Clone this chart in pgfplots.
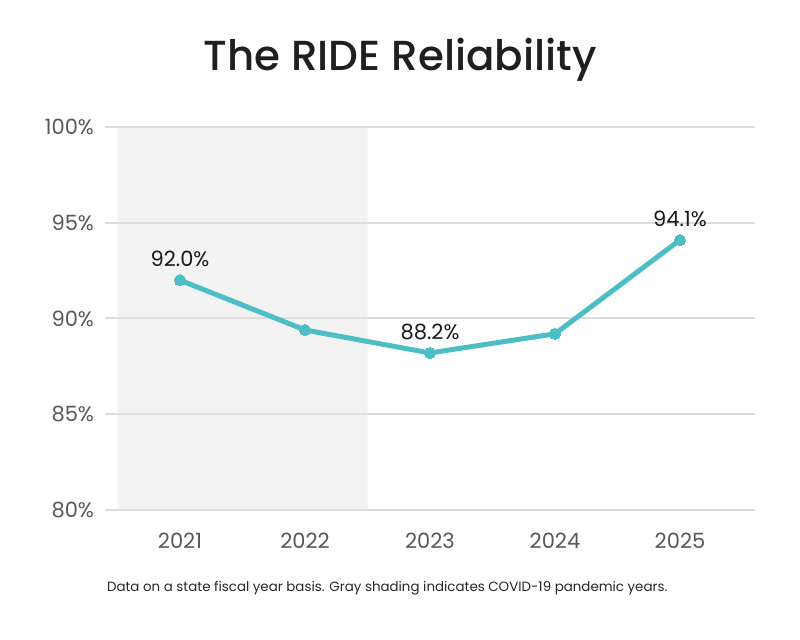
\documentclass[border=0pt]{standalone}
\usepackage{fontspec}
\setmainfont{Poppins}
\newfontfamily\titlefont{Poppins}[UprightFont={* Medium}]
\usepackage{pgfplots}
\pgfplotsset{compat=1.18}
\definecolor{ridecyan}{HTML}{4DBDC6}
\definecolor{gridgray}{HTML}{DDDDDD}
\definecolor{shade}{HTML}{F3F3F3}
\definecolor{ticktext}{HTML}{585858}
\begin{document}
\begin{tikzpicture}
  \path (0pt,0pt) rectangle (400pt,320pt);
  \node[font=\titlefont\fontsize{21}{25}\selectfont, text=black!88] at (200pt,290pt) {The RIDE Reliability};
  \node[font=\fontsize{6.7}{9}\selectfont, text=black!85, anchor=west] at (50pt,26pt) {Data on a state fiscal year basis. Gray shading indicates COVID-19 pandemic years.};
  \begin{axis}[
    at={(52.5pt,65pt)}, anchor=south west,
    scale only axis,
    width=325pt, height=191.5pt,
    xmin=-0.6, xmax=4.6,
    ymin=80, ymax=100,
    axis line style={draw=none},
    tick style={draw=none},
    xtick={0,1,2,3,4},
    xticklabels={2021,2022,2023,2024,2025},
    ytick={80,85,90,95,100},
    yticklabel={\pgfmathprintnumber{\tick}\%},
    /pgf/number format/assume math mode=true,
    ymajorgrids,
    major grid style={gridgray, line width=1pt},
    ticklabel style={font=\fontsize{10.5}{12}\selectfont, text=ticktext},
    yticklabel style={xshift=-2pt},
    xticklabel style={yshift=-8pt},
    clip=false,
    set layers,
  ]
    \addplot[fill=shade, draw=none, on layer=axis background]
      coordinates {(-0.5,80) (1.5,80) (1.5,100) (-0.5,100)} \closedcycle;
    \addplot[ridecyan, line width=2.5pt, mark=*, mark size=2.8pt,
      mark options={fill=ridecyan, draw=ridecyan, line width=0pt}]
      coordinates {(0,92.0) (1,89.4) (2,88.2) (3,89.2) (4,94.1)};
    \addplot[draw=none, mark=none,
      nodes near coords={\pgfmathprintnumber[fixed,fixed zerofill,precision=1]{\pgfplotspointmeta}\%},
      point meta=explicit,
      nodes near coords style={font=\fontsize{10.5}{12}\selectfont, text=black!90, anchor=south, yshift=3pt,
        /pgf/number format/assume math mode=true}]
      coordinates {(0,92.0) [92.0] (2,88.2) [88.2] (4,94.1) [94.1]};
  \end{axis}
\end{tikzpicture}
\end{document}
